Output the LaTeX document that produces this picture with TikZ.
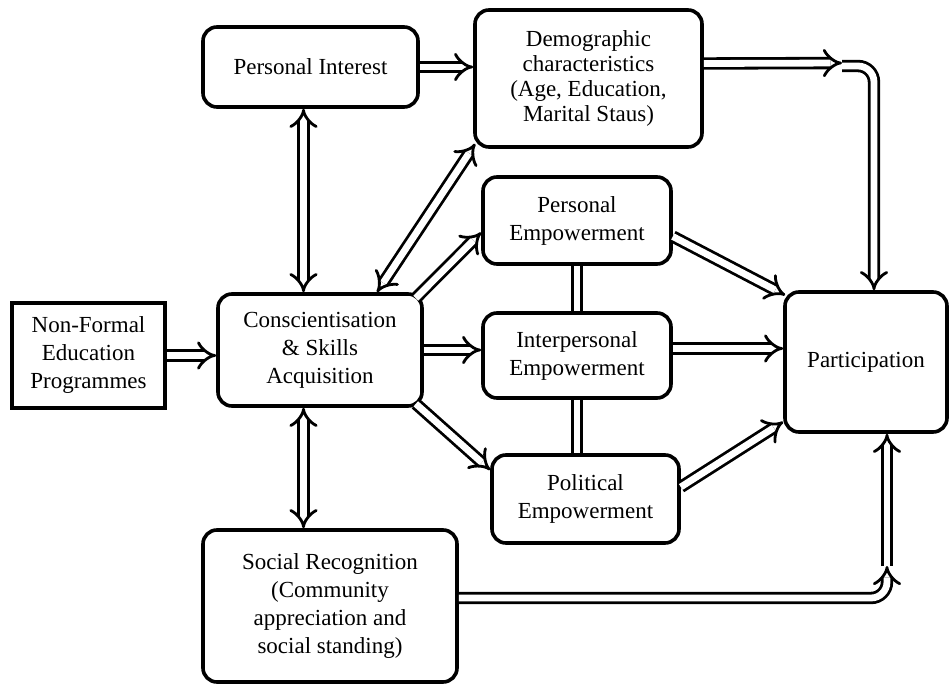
\documentclass[tikz,border=0pt]{standalone}
\usepackage{fontspec}
\setmainfont{Liberation Serif}
\usetikzlibrary{arrows.meta}

\begin{document}
\begin{tikzpicture}[x=0.5pt, y=-0.5pt, align=center,
  box/.style={draw, line width=1.8pt, rounded corners=7pt, inner sep=2pt,
    font=\fontsize{11.5}{14}\selectfont},
  link/.style={double, line width=1.4pt, double distance=3.4pt},
  flow/.style={link, -{Implies}},
  both/.style={link, {Implies}-{Implies}}]
\useasboundingbox (0,0) rectangle (949,684);

\path (88.5,355.5) node[box, sharp corners, minimum width=76.5pt, minimum height=52.5pt] (nfe) {Non-Formal\\Education\\Programmes}
      (320,350) node[box, minimum width=102pt, minimum height=56pt] (consc) {Conscientisation\\\& Skills\\Acquisition}
      (310.5,67) node[box, minimum width=107.5pt, minimum height=40pt] (pint) {Personal Interest}
      (588.5,78.5) node[box, minimum width=113.5pt, minimum height=68.5pt,
        font=\fontsize{11.5}{12.5}\selectfont] (demo) {Demographic\\characteristics\\(Age, Education,\\Marital Staus)}
      (577,220.5) node[box, minimum width=94pt, minimum height=43.5pt] (pemp) {Personal\\Empowerment}
      (577,355.5) node[box, minimum width=94pt, minimum height=42.5pt] (iemp) {Interpersonal\\Empowerment}
      (585.5,499) node[box, minimum width=93.5pt, minimum height=44pt] (polemp) {Political\\Empowerment}
      (866,362) node[box, minimum width=81pt, minimum height=70pt] (part) {Participation}
      (330,606) node[box, minimum width=127pt, minimum height=76pt] (social) {Social Recognition\\(Community\\appreciation and\\social standing)};

\coordinate (djoin) at (842,63);
\coordinate (sjoin) at (887,566);

\draw[flow] (nfe.east) -- (nfe.east -| consc.west);
\draw[both] ([shift={(-7,0)}]pint.south) -- ([shift={(-7,0)}]pint.south |- consc.north);
\draw[both] ([shift={(-7,0)}]pint.south |- consc.south) -- ([shift={(-7,0)}]pint.south |- social.north);
\draw[flow] (pint.east) -- (pint.east -| demo.west);
\draw[both] ([shift={(57,0)}]consc.north) -- ([shift={(2,-5)}]demo.south west);
\draw[flow] ([shift={(-8,6)}]consc.north east) -- ([shift={(0,12)}]pemp.west);
\draw[flow] (consc.east) -- (consc.east -| iemp.west);
\draw[flow] ([shift={(-8,-4)}]consc.south east) -- ([shift={(0,-29)}]polemp.west);
\draw[link] (pemp.south) -- (pemp.south |- iemp.north);
\draw[link] (iemp.south) -- (iemp.south |- polemp.north);
\draw[flow] ([shift={(0,16)}]pemp.east) -- ([shift={(2,5)}]part.north west);
\draw[flow] ([shift={(0,-7)}]iemp.east) -- ([shift={(0,-7)}]iemp.east -| part.west);
\draw[flow] ([shift={(0,-12)}]polemp.east) -- ([shift={(0,-12)}]part.south west);
\draw[flow] ([shift={(0,-15)}]demo.east) -- (djoin);
\draw[flow, rounded corners=8pt] ([shift={(0,3)}]djoin) -| ([shift={(8,0)}]part.north);
\draw[flow, rounded corners=8pt] ([shift={(0,-8)}]social.east) -| (sjoin);
\draw[flow] (sjoin) -- (sjoin |- part.south);

\end{tikzpicture}
\end{document}
